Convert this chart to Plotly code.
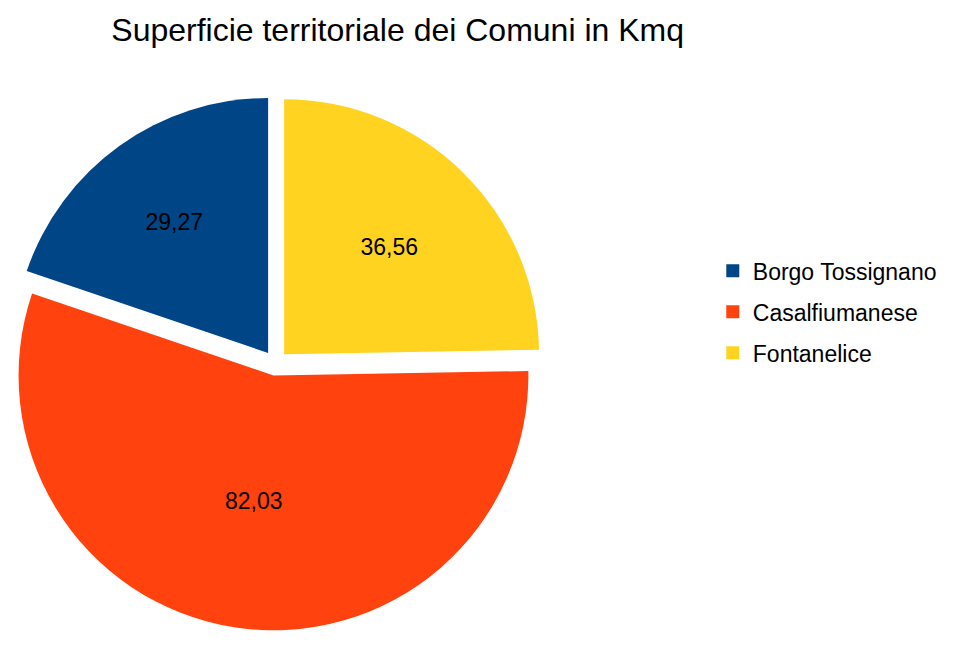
import plotly.graph_objects as go

# Superficie dei Comuni (Kmq)
comuni = ["Borgo Tossignano", "Casalfiumanese", "Fontanelice"]
superficie = [29.27, 82.03, 36.56]
etichette = ["29,27", "82,03", "36,56"]

colori = ["#004586", "#ff420e", "#ffd320"]
font_base = "Liberation Sans, Arial, sans-serif"

# la torta parte da ore 12 in senso orario con l'ultimo comune
torta = go.Pie(
    labels=comuni[::-1],
    values=superficie[::-1],
    text=etichette[::-1],
    textinfo="text",
    textposition="inside",
    insidetextorientation="horizontal",
    textfont=dict(family=font_base, size=23, color="black"),
    sort=False,
    direction="clockwise",
    rotation=0,
    pull=[0.049, 0.049, 0.049],
    marker=dict(colors=colori[::-1], line=dict(width=0)),
    domain=dict(x=[0.0, 0.560], y=[0.039, 0.865]),
    hoverinfo="label+value",
    showlegend=False,
)

# legenda con quadratini (tracce vuote, solo per la legenda)
voci_legenda = []
for i, nome in enumerate(comuni):
    voci_legenda.append(go.Scatter(
        x=[None], y=[None],
        mode="markers",
        name=nome,
        legendgroup=nome,
        marker=dict(symbol="square", size=13, color=colori[i]),
        showlegend=True,
    ))

layout = go.Layout(
    title=dict(
        text="Superficie territoriale dei Comuni in Kmq",
        x=0.408, xanchor="center",
        y=0.966, yanchor="middle",
        font=dict(family=font_base, size=32, color="black"),
    ),
    width=955,
    height=648,
    margin=dict(l=0, r=0, t=0, b=0),
    paper_bgcolor="white",
    plot_bgcolor="white",
    xaxis=dict(visible=False),
    yaxis=dict(visible=False),
    showlegend=True,
    legend=dict(
        x=0.738, y=0.531, xanchor="left", yanchor="middle",
        font=dict(family=font_base, size=23, color="black"),
        itemsizing="trace",
        tracegroupgap=8,
        itemwidth=30,
    ),
)

fig = go.Figure(data=[torta] + voci_legenda, layout=layout)
fig.write_html("out.html")
